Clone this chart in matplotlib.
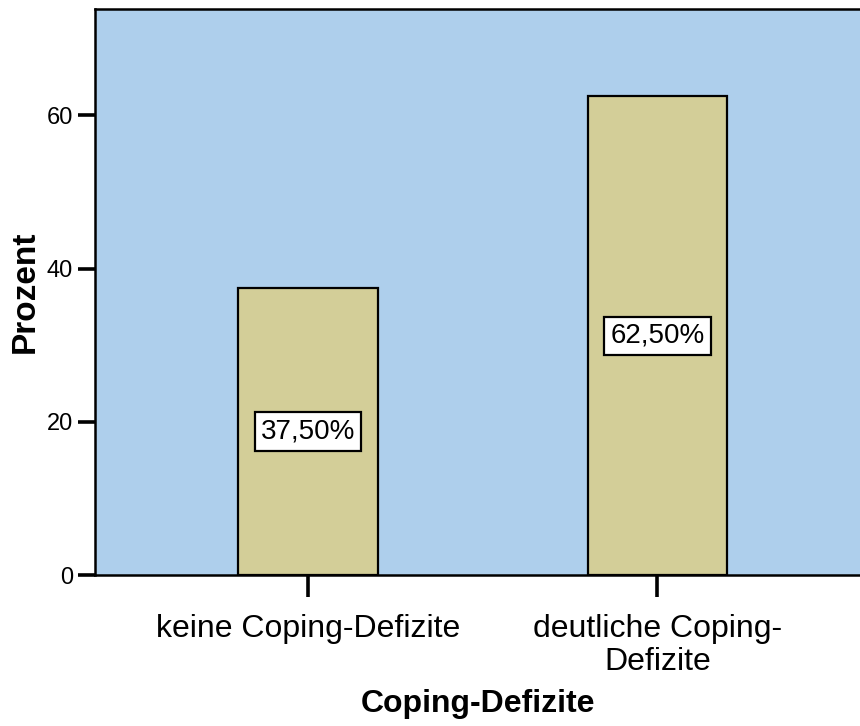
import matplotlib
matplotlib.use("Agg")
import matplotlib.pyplot as plt

# Data

categories = ["keine Coping-Defizite", "deutliche Coping-\nDefizite"]
percent = [37.5, 62.5]
value_labels = ["37,50%", "62,50%"]
y_ticks = [0, 20, 40, 60]

plt.rcParams["font.family"] = ["Liberation Sans", "DejaVu Sans"]

fig = plt.figure(figsize=(8.6, 7.26), dpi=100)
ax = fig.add_axes([95 / 860, 1 - 575 / 726, 1 - 95 / 860 + 0.002, (575 - 9) / 726])

ax.set_facecolor("#AECFEC")

x = list(range(len(categories)))

ax.bar(
    x,
    percent,
    width=0.40,
    color="#D3CE98",
    edgecolor="black",
    linewidth=1.6,
    zorder=2
)

# Value boxes in the middle of each bar

for i in range(len(percent)):

    ax.text(
        x[i],
        percent[i] / 2,
        value_labels[i],
        ha="center",
        va="center",
        fontsize=20,
        zorder=3,
        bbox=dict(
            boxstyle="square,pad=0.22",
            facecolor="white",
            edgecolor="black",
            linewidth=1.6
        )
    )

ax.set_xlim(-0.61, 1.585)
ax.set_ylim(0, 73.9)

ax.set_yticks(y_ticks)
ax.set_yticklabels([str(t) for t in y_ticks], fontsize=17)

ax.set_xticks(x)
ax.set_xticklabels(categories, fontsize=23, linespacing=1.12)

ax.tick_params(axis="y", length=12, width=2.6, pad=4)
ax.tick_params(axis="x", length=16, width=2.6, pad=12)

for side in ["left", "bottom", "top"]:
    ax.spines[side].set_linewidth(1.8)
ax.spines["right"].set_visible(False)

ax.set_ylabel("Prozent", fontsize=24, fontweight="bold", labelpad=4)
ax.set_xlabel("Coping-Defizite", fontsize=23, fontweight="bold", labelpad=9)

fig.savefig("out.png", dpi=100)
